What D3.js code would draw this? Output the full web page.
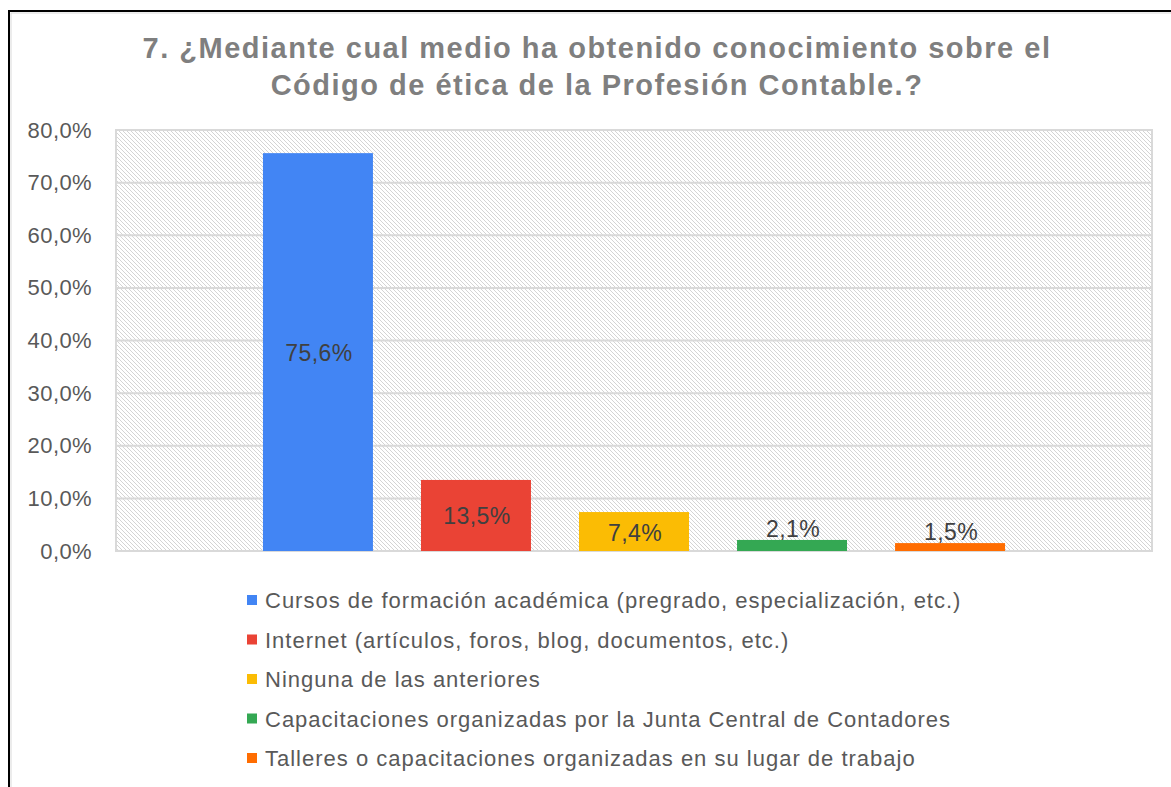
<!DOCTYPE html>
<html>
<head>
<meta charset="utf-8">
<script src="https://cdn.jsdelivr.net/npm/d3@7"></script>
<style>
  html, body { margin: 0; padding: 0; background: #fff; }
  svg { display: block; font-family: "Liberation Sans", Arial, sans-serif; }
</style>
</head>
<body>
<svg id="chart" width="1171" height="787"></svg>
<script>
const titleLines = ["7. ¿Mediante cual medio ha obtenido conocimiento sobre el",
                    "Código de ética de la Profesión Contable.?"];
const series = ["Cursos de formación académica (pregrado, especialización, etc.)",
                "Internet (artículos, foros, blog, documentos, etc.)",
                "Ninguna de las anteriores",
                "Capacitaciones organizadas por la Junta Central de Contadores",
                "Talleres o capacitaciones organizadas en su lugar de trabajo"];
const values = [75.6, 13.5, 7.4, 2.1, 1.5];
const colors = ["#4285f4", "#ea4335", "#fbbc04", "#34a853", "#ff6d01"];
const yTicks = [0, 10, 20, 30, 40, 50, 60, 70, 80];

const svg = d3.select("#chart");
const fmt = v => d3.format(".1f")(v).replace(".", ",") + "%";

let marge = {top: 130, bottom: 236, left: 116, right: 19};
let width = 1171, height = 787;

// frame
svg.append("rect")
    .attr("x", 9).attr("y", 11)
    .attr("width", 1200).attr("height", 800)
    .attr("fill", "#fff")
    .attr("stroke", "#000")
    .attr("stroke-width", 2);
svg.append("rect")
    .attr("x", 11).attr("y", 13)
    .attr("width", 1200).attr("height", 800)
    .attr("fill", "none")
    .attr("stroke", "#d9d9d9")
    .attr("stroke-width", 1);

// hatching pattern
let defs = svg.append("defs");
let pat = defs.append("pattern")
    .attr("id", "hatch")
    .attr("patternUnits", "userSpaceOnUse")
    .attr("width", 4).attr("height", 4);
pat.append("rect").attr("width", 4).attr("height", 4).attr("fill", "#fff");
pat.append("path")
    .attr("d", "M-1,-1 L5,5 M-1,3 L1,5 M3,-1 L5,1")
    .attr("stroke", "#d4d4d4")
    .attr("stroke-width", 1);

// title
svg.append("g").selectAll("text")
    .data(titleLines)
    .join("text")
    .attr("x", 597)
    .attr("y", (d, i) => 58 + i * 37)
    .attr("text-anchor", "middle")
    .attr("font-size", "29px")
    .attr("letter-spacing", "1.5px")
    .attr("font-weight", "bold")
    .attr("fill", "#7f7f7f")
    .text(d => d);

let x0 = marge.left, x1 = width - marge.right;
let y0 = height - marge.bottom, y1 = marge.top;

const y = d3.scaleLinear().domain([0, 80]).range([y0, y1]);
const x = d3.scaleBand().domain(series).range([x0, x1])
    .paddingInner(0.304).paddingOuter(0.93);

// plot background
svg.append("rect")
    .attr("x", x0).attr("y", y1)
    .attr("width", x1 - x0).attr("height", y0 - y1)
    .attr("fill", "url(#hatch)");

// gridlines
svg.append("g").selectAll("line")
    .data(yTicks)
    .join("line")
    .attr("x1", x0).attr("x2", x1)
    .attr("y1", d => y(d)).attr("y2", d => y(d))
    .attr("stroke", "#d9d9d9")
    .attr("stroke-width", 2);
svg.append("rect")
    .attr("x", x0).attr("y", y1)
    .attr("width", x1 - x0).attr("height", y0 - y1)
    .attr("fill", "none")
    .attr("stroke", "#d9d9d9")
    .attr("stroke-width", 2);

// y axis
let yAxis = svg.append("g")
    .attr("transform", `translate(${x0 - 21},0)`)
    .call(d3.axisLeft(y).tickValues(yTicks).tickSize(0).tickFormat(fmt));
yAxis.select(".domain").remove();
yAxis.selectAll("text")
    .attr("font-family", "Liberation Sans, Arial, sans-serif")
    .attr("font-size", "22px")
    .attr("letter-spacing", "0.4px")
    .attr("fill", "#595959");

// bars
svg.append("g").selectAll("rect")
    .data(values)
    .join("rect")
    .attr("x", (d, i) => x(series[i]))
    .attr("y", d => y(d))
    .attr("width", x.bandwidth())
    .attr("height", d => y0 - y(d))
    .attr("fill", (d, i) => colors[i]);

// data labels
svg.append("g").selectAll("text")
    .data(values)
    .join("text")
    .attr("x", (d, i) => x(series[i]) + x.bandwidth() / 2 + 1)
    .attr("y", d => (y0 - y(d)) > 30 ? (y(d) + y0) / 2 + 9 : y(d) - 3)
    .attr("text-anchor", "middle")
    .attr("font-size", "23px")
    .attr("letter-spacing", "0.4px")
    .attr("fill", "#404040")
    .text(d => fmt(d));

// legend
let legend = svg.append("g").selectAll("g")
    .data(series)
    .join("g")
    .attr("transform", (d, i) => `translate(247,${600 + i * 39.5})`);
legend.append("rect")
    .attr("x", 0).attr("y", -5)
    .attr("width", 10).attr("height", 10)
    .attr("fill", (d, i) => colors[i]);
legend.append("text")
    .attr("x", 18).attr("y", 8)
    .attr("font-size", "22px")
    .attr("letter-spacing", "1px")
    .attr("fill", "#595959")
    .text(d => d);
</script>
</body>
</html>
